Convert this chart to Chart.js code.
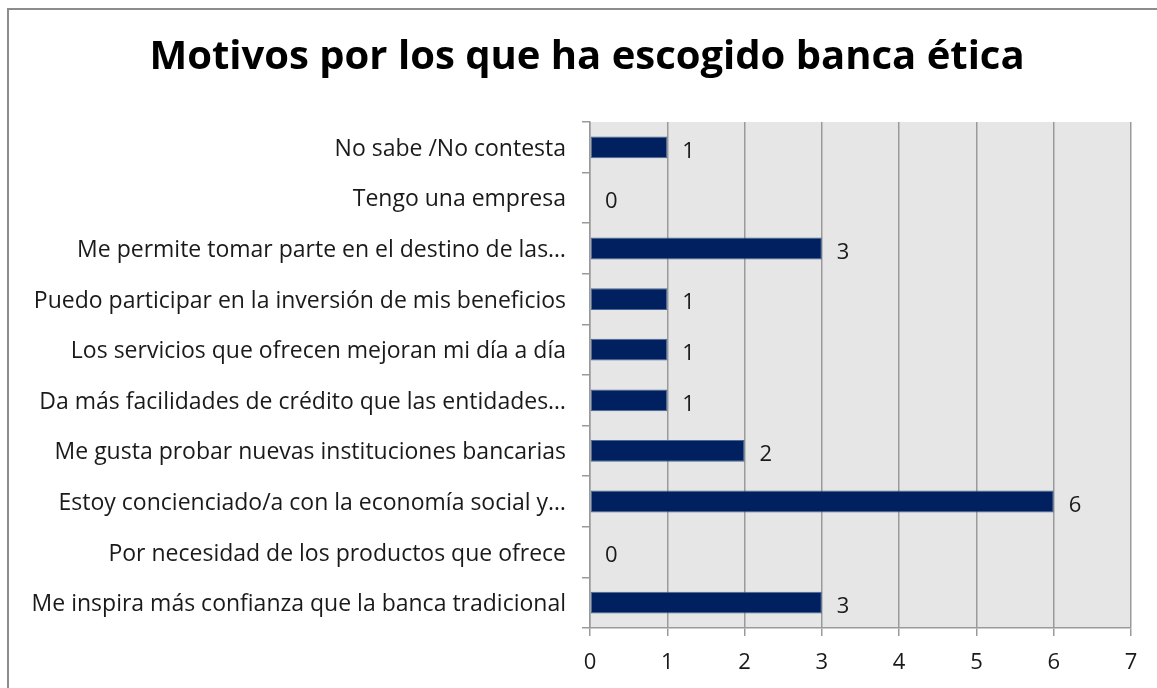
<!DOCTYPE html>
<html lang="es">
<head>
<meta charset="utf-8">
<title>Motivos por los que ha escogido banca ética</title>
<script src="https://cdn.jsdelivr.net/npm/chart.js@4/dist/chart.umd.min.js"></script>
<style>
  html, body { margin: 0; padding: 0; background: #fff; }
  canvas { display: block; }
</style>
</head>
<body>
<canvas id="grafica" width="1157" height="688"></canvas>
<script>
// Motivos (de arriba a abajo) y número de respuestas
const motivos = [
  'No sabe /No contesta',
  'Tengo una empresa',
  'Me permite tomar parte en el destino de las…',
  'Puedo participar en la inversión de mis beneficios',
  'Los servicios que ofrecen mejoran mi día a día',
  'Da más facilidades de crédito que las entidades…',
  'Me gusta probar nuevas instituciones bancarias',
  'Estoy concienciado/a con la economía social y…',
  'Por necesidad de los productos que ofrece',
  'Me inspira más confianza que la banca tradicional'
];
const respuestas = [1, 0, 3, 1, 1, 1, 2, 6, 0, 3];
const ejeX = [0, 1, 2, 3, 4, 5, 6, 7];
const titulo = 'Motivos por los que ha escogido banca ética';

const fuente = '"Open Sans", "Noto Sans", sans-serif';

// Marco gris del gráfico, título y fondo gris del área de trazado
const fondo = {
  id: 'fondo',
  beforeDraw(chart) {
    const { ctx, chartArea: a } = chart;
    ctx.save();
    ctx.fillStyle = '#fff';
    ctx.fillRect(0, 0, chart.width, chart.height);
    ctx.strokeStyle = '#8c8c8c';
    ctx.lineWidth = 2;
    ctx.beginPath();
    ctx.moveTo(8, chart.height);
    ctx.lineTo(8, 9);
    ctx.lineTo(chart.width, 9);
    ctx.stroke();
    ctx.fillStyle = '#e6e6e6';
    ctx.fillRect(a.left, a.top, a.right - a.left, a.bottom - a.top);

    // el título va centrado sobre todo el marco, no sobre el área de trazado
    ctx.font = 'bold 40px ' + fuente;
    ctx.fillStyle = '#000';
    ctx.textAlign = 'center';
    ctx.textBaseline = 'middle';
    ctx.fillText(titulo, 587, 58);
    ctx.restore();
  }
};

// Etiqueta con el valor a la derecha de cada barra
const etiquetas = {
  id: 'etiquetas',
  afterDatasetsDraw(chart) {
    const { ctx } = chart;
    const meta = chart.getDatasetMeta(0);
    ctx.save();
    ctx.font = '22px ' + fuente;
    ctx.fillStyle = '#1a1a1a';
    ctx.textAlign = 'left';
    ctx.textBaseline = 'middle';
    meta.data.forEach((bar, i) => {
      ctx.fillText(String(respuestas[i]), bar.x + 15, bar.y + 4);
    });
    ctx.restore();
  }
};

const ctx = document.getElementById('grafica');
new Chart(ctx, {
  type: 'bar',
  data: {
    labels: motivos,
    datasets: [{
      data: respuestas,
      backgroundColor: '#00205f',
      borderColor: '#4a6796',
      borderWidth: 1,
      borderSkipped: false,
      categoryPercentage: 1,
      barPercentage: 0.43
    }]
  },
  plugins: [fondo, etiquetas],
  options: {
    indexAxis: 'y',
    responsive: false,
    animation: false,
    devicePixelRatio: 1,
    layout: { padding: { left: 20, right: 26, top: 122, bottom: 0 } },
    plugins: {
      legend: { display: false },
      tooltip: { enabled: false },
      title: { display: false }
    },
    scales: {
      x: {
        min: 0,
        max: 7,
        afterBuildTicks(scale) {
          scale.ticks = ejeX.map(v => ({ value: v }));
        },
        afterFit(scale) { scale.height = 60; },
        grid: { color: '#9a9a9a', lineWidth: 1.5, tickLength: 8 },
        border: { color: '#9a9a9a', width: 1.5 },
        ticks: {
          color: '#1a1a1a',
          padding: 14,
          font: { family: fuente, size: 22 }
        }
      },
      y: {
        afterFit(scale) { scale.width = 570; },
        grid: {
          drawOnChartArea: false,
          offset: true,
          color: '#9a9a9a',
          lineWidth: 1.5,
          tickLength: 8
        },
        border: { color: '#9a9a9a', width: 1.5 },
        ticks: {
          color: '#1a1a1a',
          padding: 16,
          labelOffset: 2,
          font: { family: fuente, size: 23 }
        }
      }
    }
  }
});
</script>
</body>
</html>
